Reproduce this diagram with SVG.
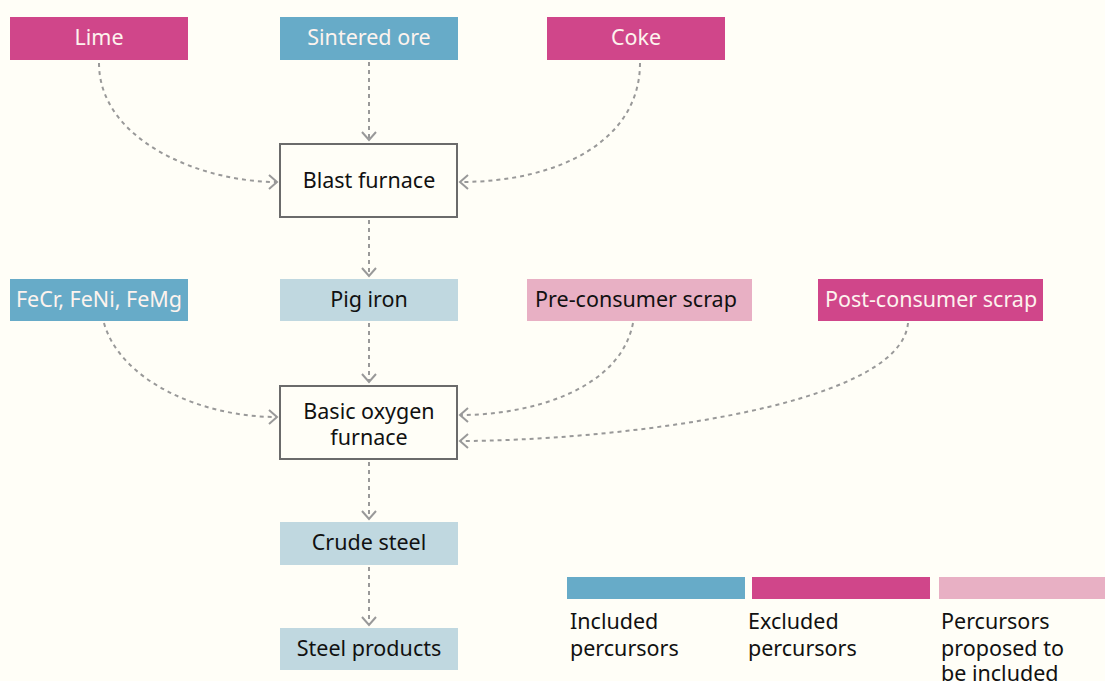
<svg xmlns="http://www.w3.org/2000/svg" width="1105" height="681" viewBox="0 0 1105 681">
<style>
text{font-family:"Noto Sans","Open Sans",sans-serif;font-size:21.5px;text-anchor:middle}
.inc{fill:#67abc8}.exc{fill:#d0468a}.prop{fill:#e8b0c4}.mat{fill:#c0d8e0}
.proc{fill:#fffef7;stroke:#6b6b6b;stroke-width:2}
.lt{fill:#fdf3ee}.dk{fill:#111}
.leg{text-anchor:start;fill:#111}
.c{fill:none;stroke:#999;stroke-width:2;stroke-dasharray:4 4;marker-end:url(#ah)}
</style>
<defs>
<marker id="ah" markerWidth="12" markerHeight="16" refX="9" refY="8" orient="auto" markerUnits="userSpaceOnUse">
<path d="M1,1 L9,8 L1,15" fill="none" stroke="#999" stroke-width="2"/>
</marker>
</defs>
<rect width="1105" height="681" fill="#fffef7"/>
<g id="connectors">
<path class="c" d="M99,63 C99,140 200,182 277,182"/>
<path class="c" d="M369,62 L369,140"/>
<path class="c" d="M640,63 C640,140 560,182 460,182"/>
<path class="c" d="M369,220 L369,276"/>
<path class="c" d="M369,323 L369,382"/>
<path class="c" d="M104,323 C120,380 200,417 277,417"/>
<path class="c" d="M633,323 C620,390 530,415 460,415"/>
<path class="c" d="M908,323 C900,410 600,441 460,441"/>
<path class="c" d="M369,462 L369,519"/>
<path class="c" d="M369,567 L369,625"/>
</g>
<g id="lime"><rect class="exc" x="10" y="17" width="178" height="43"/><text class="lt" x="99" y="45">Lime</text></g>
<g id="sintered-ore"><rect class="inc" x="280" y="17" width="178" height="43"/><text class="lt" x="369" y="45">Sintered ore</text></g>
<g id="coke"><rect class="exc" x="547" y="17" width="178" height="43"/><text class="lt" x="636" y="45">Coke</text></g>
<g id="blast-furnace"><rect class="proc" x="280" y="144" width="177" height="73"/><text class="dk" x="369" y="188">Blast furnace</text></g>
<g id="ferroalloys"><rect class="inc" x="10" y="279" width="178" height="42"/><text class="lt" x="99" y="307">FeCr, FeNi, FeMg</text></g>
<g id="pig-iron"><rect class="mat" x="280" y="279" width="178" height="42"/><text class="dk" x="369" y="307">Pig iron</text></g>
<g id="pre-consumer"><rect class="prop" x="527" y="279" width="225" height="42"/><text class="dk" x="636" y="307">Pre-consumer scrap</text></g>
<g id="post-consumer"><rect class="exc" x="818" y="279" width="225" height="42"/><text class="lt" x="931" y="307">Post-consumer scrap</text></g>
<g id="bof"><rect class="proc" x="280" y="386" width="177" height="73"/><text class="dk" x="369" y="419">Basic oxygen</text><text class="dk" x="369" y="445">furnace</text></g>
<g id="crude-steel"><rect class="mat" x="280" y="522" width="178" height="43"/><text class="dk" x="369" y="550">Crude steel</text></g>
<g id="steel-products"><rect class="mat" x="280" y="628" width="178" height="42"/><text class="dk" x="369" y="656">Steel products</text></g>
<g id="legend">
<rect class="inc" x="567" y="577" width="178" height="22"/>
<rect class="exc" x="752" y="577" width="178" height="22"/>
<rect class="prop" x="939" y="577" width="166" height="22"/>
<text class="leg" x="570" y="629">Included</text><text class="leg" x="570" y="656">percursors</text>
<text class="leg" x="748" y="629">Excluded</text><text class="leg" x="748" y="656">percursors</text>
<text class="leg" x="941" y="629">Percursors</text><text class="leg" x="941" y="656">proposed to</text><text class="leg" x="941" y="681">be included</text>
</g>
</svg>
